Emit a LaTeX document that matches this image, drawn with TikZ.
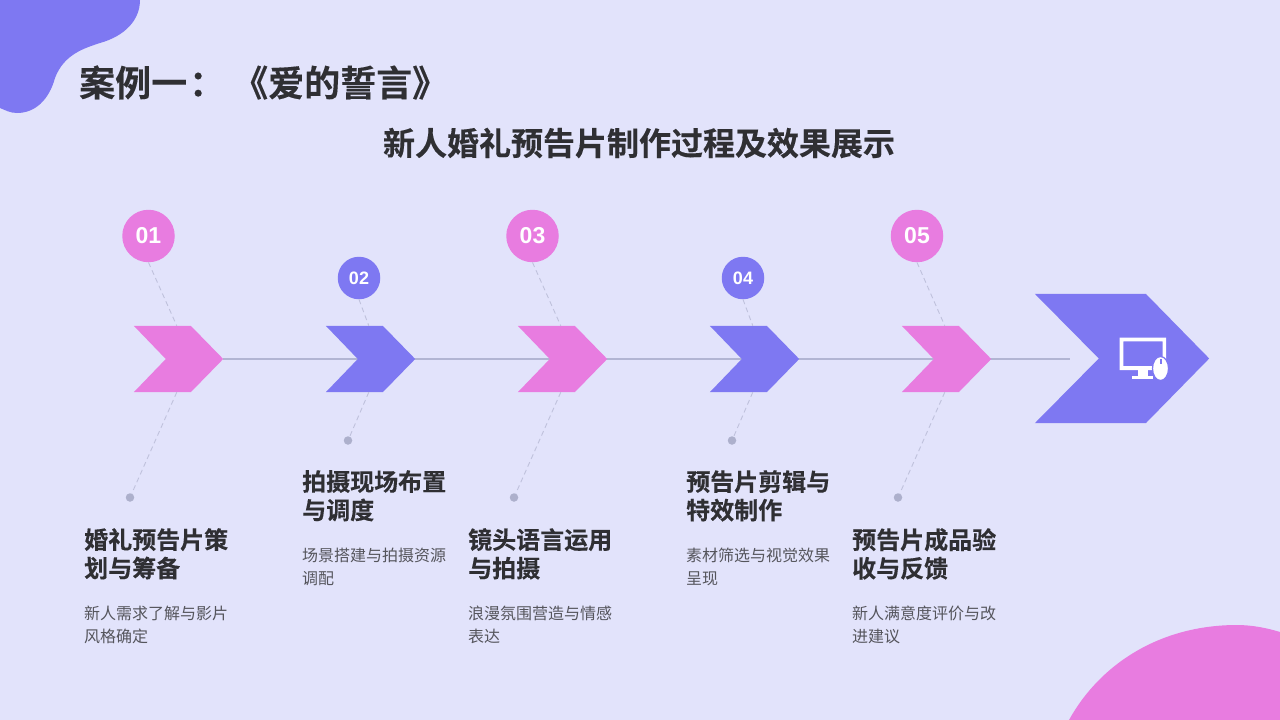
\documentclass[tikz,border=0pt]{standalone}
\usepackage{fontspec}
\setmainfont{Liberation Sans}
\newfontfamily\cjkb[Kerning=Off,FakeBold=0.25]{Noto Sans CJK SC Bold}
\newfontfamily\cjkr[Kerning=Off]{Noto Sans CJK SC}
\definecolor{bgc}{HTML}{E2E3FB}
\definecolor{vio}{HTML}{7E78F2}
\definecolor{pnk}{HTML}{E87CE0}
\definecolor{ink}{HTML}{2F2F33}
\definecolor{sub}{HTML}{55555C}
\definecolor{rail}{HTML}{B2B5D3}
\definecolor{dashc}{HTML}{BFC1DC}
\definecolor{dotc}{HTML}{ADB0CC}
\tikzset{
 numbig/.style={circle,inner sep=0pt,minimum size=52.5pt,text=white,font=\fontsize{23}{23}\selectfont\bfseries},
 numsmall/.style={circle,inner sep=0pt,minimum size=42.5pt,text=white,font=\fontsize{18}{18}\selectfont\bfseries},
 chevbox/.style={inner sep=0pt,minimum width=89pt,minimum height=66pt},
 enddot/.style={circle,fill=dotc,inner sep=0pt,minimum size=8.5pt},
 dashline/.style={draw=dashc,line width=0.9pt,dash pattern=on 5pt off 3.5pt},
 headtext/.style={anchor=north west,align=left,inner sep=0pt,text=ink,font=\fontsize{24}{28.5}\selectfont\cjkb},
 subtext/.style={anchor=north west,align=left,inner sep=0pt,text=sub,font=\fontsize{16}{23}\selectfont\cjkr},
}
\newcommand{\chevron}[3]{%
 \node[chevbox] (#1) at (#2,359) {};
 \fill[#3] (#1.north west) -- ++(57,0) -- (#1.east) -- ($(#1.south west)+(57,0)$) -- (#1.south west) -- ($(#1.west)+(32,0)$) -- cycle;
 \coordinate (#1t) at ($(#1.north west)+(43,0)$);
 \coordinate (#1b) at ($(#1.south west)+(43,0)$);
}
\usetikzlibrary{calc}
\begin{document}
\begin{tikzpicture}[x=1pt,y=-1pt]
\useasboundingbox (0,0) rectangle (1280,720);
\fill[bgc] (0,0) rectangle (1280,720);
% corner blobs
\fill[vio] (0,0) -- (140,0) .. controls (140,20) and (125,36) .. (100,43) .. controls (85,48) and (64,54) .. (55,78) .. controls (49,100) and (35,113) .. (17,113) .. controls (10,113) and (5,110) .. (0,108) -- cycle;
\fill[pnk] (1069,720) .. controls (1100,664) and (1160,625) .. (1237,625) .. controls (1252,625) and (1267,628) .. (1280,632) -- (1280,720) -- cycle;
% titles
\node[anchor=west,inner sep=0pt,text=ink,font=\fontsize{36}{36}\selectfont\cjkb] (title) at (79,82.5) {案例一\hspace{2pt}：\hspace{7pt}《爱的誓言》};
\node[anchor=center,inner sep=0pt,text=ink,font=\fontsize{32}{32}\selectfont\cjkb] (subtitle) at (639,143) {新人婚礼预告片制作过程及效果展示};
% rail
\coordinate (railstart) at (223,358.5);
\coordinate (railend) at (1070,358.5);
\draw[rail,line width=2pt] (railstart) -- (railend);
% chevrons
\chevron{c1}{178.5}{pnk}
\chevron{c2}{370.5}{vio}
\chevron{c3}{562.5}{pnk}
\chevron{c4}{754.5}{vio}
\chevron{c5}{946.5}{pnk}
% big arrow
\node[inner sep=0pt,minimum width=174pt,minimum height=129pt] (big) at (1122,358.5) {};
\fill[vio] (big.north west) -- ++(111,0) -- (big.east) -- ($(big.south west)+(111,0)$) -- (big.south west) -- ($(big.west)+(64,0)$) -- cycle;
% icon
\fill[white,even odd rule] (1119.5,337.5) rectangle (1166,370) (1123.3,341.3) rectangle (1162.7,366);
\fill[white] (1138,370) rectangle (1148,376);
\fill[white] (1132,376) rectangle (1153,379.3);
\filldraw[fill=white,draw=vio,line width=1.2pt] (1160.5,368.5) ellipse [x radius=8,y radius=12];
\fill[vio] (1159.6,358.5) rectangle (1161.6,364);
% circles
\node[numbig,fill=pnk] (n1) at (148.5,236) {01};
\node[numsmall,fill=vio] (n2) at (359,278) {02};
\node[numbig,fill=pnk] (n3) at (532.5,236) {03};
\node[numsmall,fill=vio] (n4) at (743,278) {04};
\node[numbig,fill=pnk] (n5) at (917,236) {05};
% dots
\node[enddot] (d1) at (130,497.5) {};
\node[enddot] (d2) at (348,440.5) {};
\node[enddot] (d3) at (514,497.5) {};
\node[enddot] (d4) at (732,440.5) {};
\node[enddot] (d5) at (898,497.5) {};
% dashed connectors
\foreach \i in {1,...,5}{
 \draw[dashline] (n\i.south) -- (c\i t);
 \draw[dashline] (c\i b) -- (d\i);
}
% texts
\node[headtext] (h1) at (84,528) {婚礼预告片策\\划与筹备};
\node[subtext] (s1) at (84,606) {新人需求了解与影片\\风格确定};
\node[headtext] (h2) at (302,470) {拍摄现场布置\\与调度};
\node[subtext] (s2) at (302,548) {场景搭建与拍摄资源\\调配};
\node[headtext] (h3) at (468,528) {镜头语言运用\\与拍摄};
\node[subtext] (s3) at (468,606) {浪漫氛围营造与情感\\表达};
\node[headtext] (h4) at (686,470) {预告片剪辑与\\特效制作};
\node[subtext] (s4) at (686,548) {素材筛选与视觉效果\\呈现};
\node[headtext] (h5) at (852,528) {预告片成品验\\收与反馈};
\node[subtext] (s5) at (852,606) {新人满意度评价与改\\进建议};
\end{tikzpicture}
\end{document}
